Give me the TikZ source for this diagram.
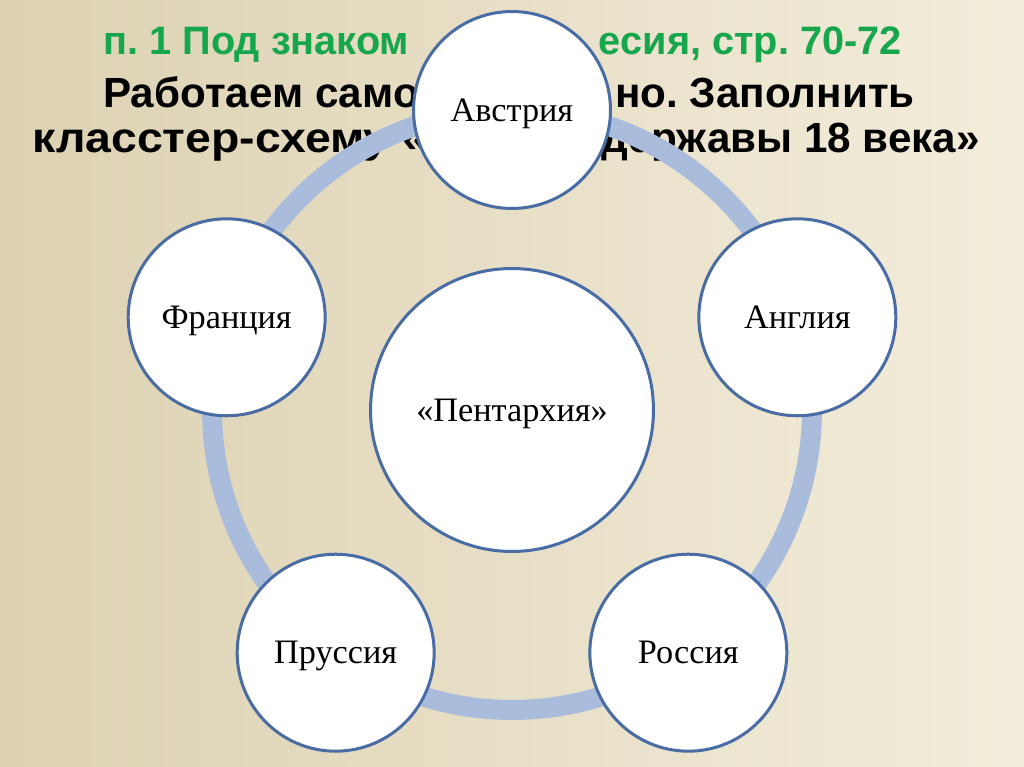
\documentclass[tikz,border=0pt]{standalone}
\usepackage{fontspec}
\setmainfont{Liberation Serif}
\newfontfamily\headfont{Liberation Sans}
\newfontfamily\headwide[FakeStretch=1.1]{Liberation Sans}
\usepackage{xcolor}
\usetikzlibrary{calc}
\frenchspacing

\definecolor{ringblue}{RGB}{170,188,220}
\definecolor{edgeblue}{RGB}{72,108,163}
\definecolor{titlegreen}{RGB}{22,166,76}
\definecolor{bgleft}{RGB}{220,209,178}
\definecolor{bgright}{RGB}{243,237,219}

\begin{document}
\begin{tikzpicture}[x=0.02cm, y=0.02cm,
  country/.style={circle, draw=edgeblue, line width=0.06cm, fill=white,
    minimum size=3.94cm, inner sep=0pt, text depth=0pt,
    font=\fontsize{19.5}{24}\selectfont},
  hub/.style={country, minimum size=5.66cm},
  headline/.style={inner sep=0pt, font=\headfont\bfseries\fontsize{24}{28}\selectfont},
  subhead/.style={headline, font=\headfont\bfseries\fontsize{22.6}{26}\selectfont, titlegreen}]
  % Background
  \shade[left color=bgleft, right color=bgright] (0,0) rectangle (1024,767);
  \useasboundingbox (0,0) rectangle (1024,767);

  % Title lines (middle part hidden by the top circle)
  \node[subhead, anchor=base west] (t1a) at (103,712) {п. 1 Под знаком};
  \node[subhead, anchor=base east] (t1b) at (902,712) {есия, стр. 70-72};
  \node[headline, anchor=base west] (t2a) at (103,659) {Работаем само};
  \node[headline, anchor=base east] (t2b) at (915,659) {но. Заполнить};
  \node[headline, font=\headwide\bfseries\fontsize{24}{28}\selectfont, anchor=base west] (t3a) at (32,614) {класстер-схему «};
  \node[headline, anchor=base east] (t3b) at (980,614) {державы 18 века»};

  % Centre and ring
  \coordinate (pent) at (512,357);
  \draw[ringblue, line width=0.4cm] (pent) circle (6cm);

  % Circles
  \node[hub] (centre) at (pent) {«Пентархия»};
  \node[country] (austria) at ($(pent)+(90:300)$) {Австрия};
  \node[country] (england) at ($(pent)+(18:300)$) {Англия};
  \node[country] (russia) at ($(pent)+(-54:300)$) {Россия};
  \node[country] (prussia) at ($(pent)+(-126:300)$) {Пруссия};
  \node[country] (france) at ($(pent)+(162:300)$) {Франция};
\end{tikzpicture}
\end{document}
